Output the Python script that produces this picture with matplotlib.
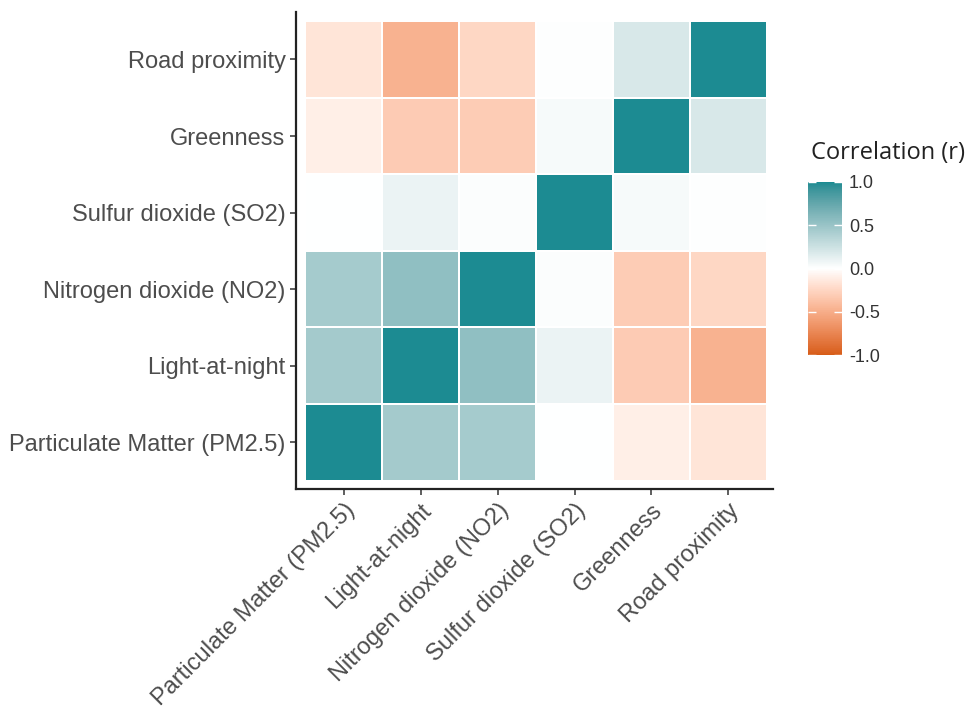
import numpy as np
import matplotlib
matplotlib.use("Agg")
import matplotlib.pyplot as plt
from matplotlib.colors import ListedColormap, Normalize, to_rgb
import matplotlib.cm as cm

variables = ["Particulate Matter (PM2.5)", "Light-at-night", "Nitrogen dioxide (NO2)",
             "Sulfur dioxide (SO2)", "Greenness", "Road proximity"]

# correlation matrix (rows/cols in the order above)
corr = np.array([
    [1.00, 0.45, 0.44, 0.00, -0.10, -0.16],
    [0.45, 1.00, 0.54, 0.10, -0.32, -0.47],
    [0.44, 0.54, 1.00, 0.02, -0.31, -0.25],
    [0.00, 0.10, 0.02, 1.00, 0.04, 0.01],
    [-0.10, -0.32, -0.31, 0.04, 1.00, 0.19],
    [-0.16, -0.47, -0.25, 0.01, 0.19, 1.00],
])
cbar_ticks = [-1.0, -0.5, 0.0, 0.5, 1.0]

plt.rcParams['font.family'] = ['Liberation Sans', 'DejaVu Sans']
txt_col = "#4d4d4d"

# --- diverging palette interpolated in CIE Lab (like ggplot's gradient2) ---
def srgb_to_lab(rgb):
    rgb = np.asarray(rgb, float)
    lin = np.where(rgb <= 0.04045, rgb / 12.92, ((rgb + 0.055) / 1.055) ** 2.4)
    M = np.array([[0.4124, 0.3576, 0.1805], [0.2126, 0.7152, 0.0722], [0.0193, 0.1192, 0.9505]])
    xyz = M @ lin / np.array([0.95047, 1.0, 1.08883])
    f = np.where(xyz > 0.008856, np.cbrt(xyz), 7.787 * xyz + 16 / 116)
    return np.array([116 * f[1] - 16, 500 * (f[0] - f[1]), 200 * (f[1] - f[2])])

def lab_to_srgb(lab):
    L, a, b = lab
    fy = (L + 16) / 116
    fx = fy + a / 500
    fz = fy - b / 200
    f = np.array([fx, fy, fz])
    xyz = np.where(f ** 3 > 0.008856, f ** 3, (f - 16 / 116) / 7.787) * np.array([0.95047, 1.0, 1.08883])
    Minv = np.array([[3.2406, -1.5372, -0.4986], [-0.9689, 1.8758, 0.0415], [0.0557, -0.2040, 1.0570]])
    lin = Minv @ xyz
    rgb = np.where(lin <= 0.0031308, 12.92 * lin, 1.055 * np.clip(lin, 0, None) ** (1 / 2.4) - 0.055)
    return np.clip(rgb, 0, 1)

low, mid, high = srgb_to_lab(to_rgb("#d75c17")), srgb_to_lab(to_rgb("#ffffff")), srgb_to_lab(to_rgb("#1c8b92"))
cols = []
for t in np.linspace(-1, 1, 256):
    lab = mid + (low - mid) * (-t) if t < 0 else mid + (high - mid) * t
    cols.append(lab_to_srgb(lab))
cmap = ListedColormap(cols)
norm = Normalize(-1, 1)

fig = plt.figure(figsize=(9.69, 7.14), dpi=100)
ax = fig.add_axes([296/969, 1-489/714, 477/969, 477/714])
n = len(variables)
edges = np.arange(n + 1) - 0.5
ax.pcolormesh(edges, edges, corr, cmap=cmap, norm=norm, edgecolors="white", linewidth=1.1)
ax.set_xlim(-0.62, n - 0.42)
ax.set_ylim(-0.61, n - 0.38)
ax.set_xticks(range(n))
ax.set_yticks(range(n))
ax.set_xticklabels(variables, rotation=45, ha="right", va="top", rotation_mode="anchor",
                   fontsize=17, color=txt_col)
ax.set_yticklabels(variables, fontsize=17, color=txt_col)
for s in ["top", "right"]:
    ax.spines[s].set_visible(False)
for s in ["left", "bottom"]:
    ax.spines[s].set_linewidth(1.6)
    ax.spines[s].set_color("#222222")
ax.tick_params(length=4.5, width=1.1, color="#333333", pad=3)

cax = fig.add_axes([808/969, 1-355/714, 34/969, 173/714])
sm = cm.ScalarMappable(norm=norm, cmap=cmap)
cb = fig.colorbar(sm, cax=cax, ticks=cbar_ticks)
cb.outline.set_visible(False)
cb.ax.set_yticklabels([f"{t:.1f}" for t in cbar_ticks], fontsize=13, color="#333333")
cb.ax.tick_params(length=6, width=1, color="white", direction="in", left=True, right=True, pad=5)
fig.text(811/969, 1-153/714, "Correlation (r)", fontsize=17, color="#222222",
         family=["Open Sans", "DejaVu Sans"], ha="left", va="center")

fig.savefig("out.png", dpi=100)
